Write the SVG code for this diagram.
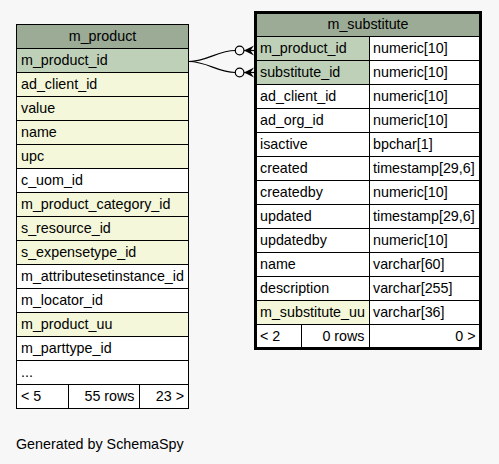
<svg xmlns="http://www.w3.org/2000/svg" width="499" height="464" viewBox="0 0 499 464">
<style>
text{font-family:"Liberation Sans",Arial,sans-serif;font-size:14.3px;fill:#000}
.c{text-anchor:middle}
.r{text-anchor:end}
.hd{fill:#9bab96}
.pk{fill:#bed1b8}
.ix{fill:#f4f7da}
.wt{fill:#ffffff}
.ln{stroke:#000;stroke-width:1;fill:none}
.edge{stroke:#000;stroke-width:1.2;fill:none}
</style>
<rect x="0" y="0" width="499" height="464" fill="#f7f7f7"/>

<g id="m_product">
  <rect class="hd" x="16.5" y="24.5" width="172" height="24"/>
  <rect class="pk" x="16.5" y="48.5" width="172" height="24"/>
  <rect class="ix" x="16.5" y="72.5" width="172" height="96"/>
  <rect class="wt" x="16.5" y="168.5" width="172" height="24"/>
  <rect class="ix" x="16.5" y="192.5" width="172" height="72"/>
  <rect class="wt" x="16.5" y="264.5" width="172" height="48"/>
  <rect class="ix" x="16.5" y="312.5" width="172" height="24"/>
  <rect class="wt" x="16.5" y="336.5" width="172" height="72"/>
  <path class="ln" d="M16.5,48.5H188.5M16.5,72.5H188.5M16.5,96.5H188.5M16.5,120.5H188.5M16.5,144.5H188.5M16.5,168.5H188.5M16.5,192.5H188.5M16.5,216.5H188.5M16.5,240.5H188.5M16.5,264.5H188.5M16.5,288.5H188.5M16.5,312.5H188.5M16.5,336.5H188.5M16.5,360.5H188.5M16.5,384.5H188.5M68.5,384.5V408.5M139.5,384.5V408.5"/>
  <rect class="ln" x="16.5" y="24.5" width="172" height="384"/>
  <text class="c" x="102.5" y="41">m_product</text>
  <text x="21" y="65">m_product_id</text>
  <text x="21" y="89">ad_client_id</text>
  <text x="21" y="113">value</text>
  <text x="21" y="137">name</text>
  <text x="21" y="161">upc</text>
  <text x="21" y="185">c_uom_id</text>
  <text x="21" y="209">m_product_category_id</text>
  <text x="21" y="233">s_resource_id</text>
  <text x="21" y="257">s_expensetype_id</text>
  <text x="21" y="281">m_attributesetinstance_id</text>
  <text x="21" y="305">m_locator_id</text>
  <text x="21" y="329">m_product_uu</text>
  <text x="21" y="353">m_parttype_id</text>
  <text x="21" y="377">...</text>
  <text x="21" y="401">&lt; 5</text>
  <text class="r" x="134.5" y="401">55 rows</text>
  <text class="r" x="184" y="401">23 &gt;</text>
</g>

<g id="m_substitute">
  <rect class="hd" x="255.5" y="12.5" width="225" height="24"/>
  <rect class="wt" x="255.5" y="36.5" width="225" height="312"/>
  <rect class="pk" x="255.5" y="36.5" width="114" height="48"/>
  <rect class="ix" x="255.5" y="300.5" width="114" height="24"/>
  <path class="ln" d="M256,36.5H480M256,60.5H480M256,84.5H480M256,108.5H480M256,132.5H480M256,156.5H480M256,180.5H480M256,204.5H480M256,228.5H480M256,252.5H480M256,276.5H480M256,300.5H480M256,324.5H480M369.5,36.5V348.5M301.5,324.5V348.5"/>
  <rect x="255.5" y="12.5" width="225" height="336" fill="none" stroke="#000" stroke-width="3"/>
  <text class="c" x="368" y="29">m_substitute</text>
  <text x="260" y="53">m_product_id</text><text x="373" y="53">numeric[10]</text>
  <text x="260" y="77">substitute_id</text><text x="373" y="77">numeric[10]</text>
  <text x="260" y="101">ad_client_id</text><text x="373" y="101">numeric[10]</text>
  <text x="260" y="125">ad_org_id</text><text x="373" y="125">numeric[10]</text>
  <text x="260" y="149">isactive</text><text x="373" y="149">bpchar[1]</text>
  <text x="260" y="173">created</text><text x="373" y="173">timestamp[29,6]</text>
  <text x="260" y="197">createdby</text><text x="373" y="197">numeric[10]</text>
  <text x="260" y="221">updated</text><text x="373" y="221">timestamp[29,6]</text>
  <text x="260" y="245">updatedby</text><text x="373" y="245">numeric[10]</text>
  <text x="260" y="269">name</text><text x="373" y="269">varchar[60]</text>
  <text x="260" y="293">description</text><text x="373" y="293">varchar[255]</text>
  <text x="260" y="317">m_substitute_uu</text><text x="373" y="317">varchar[36]</text>
  <text x="260" y="341">&lt; 2</text>
  <text class="r" x="364.5" y="341">0 rows</text>
  <text class="r" x="475.5" y="341">0 &gt;</text>
</g>

<g id="connectors">
  <path class="edge" d="M189,61.5C207,61.5 218,50.5 235.3,50.5"/>
  <path class="edge" d="M189,61.5C207,61.5 218,72.5 235.3,72.5"/>
  <circle class="edge" cx="239.6" cy="50.5" r="4.3"/>
  <circle class="edge" cx="239.6" cy="72.5" r="4.3"/>
  <polygon points="244,50.5 254,45.5 250.5,50.5 254,55.5" fill="#000"/>
  <line class="edge" x1="244" y1="50.5" x2="254" y2="50.5"/>
  <polygon points="244,72.5 254,67.5 250.5,72.5 254,77.5" fill="#000"/>
  <line class="edge" x1="244" y1="72.5" x2="254" y2="72.5"/>
</g>

<text x="16" y="449">Generated by SchemaSpy</text>
</svg>
